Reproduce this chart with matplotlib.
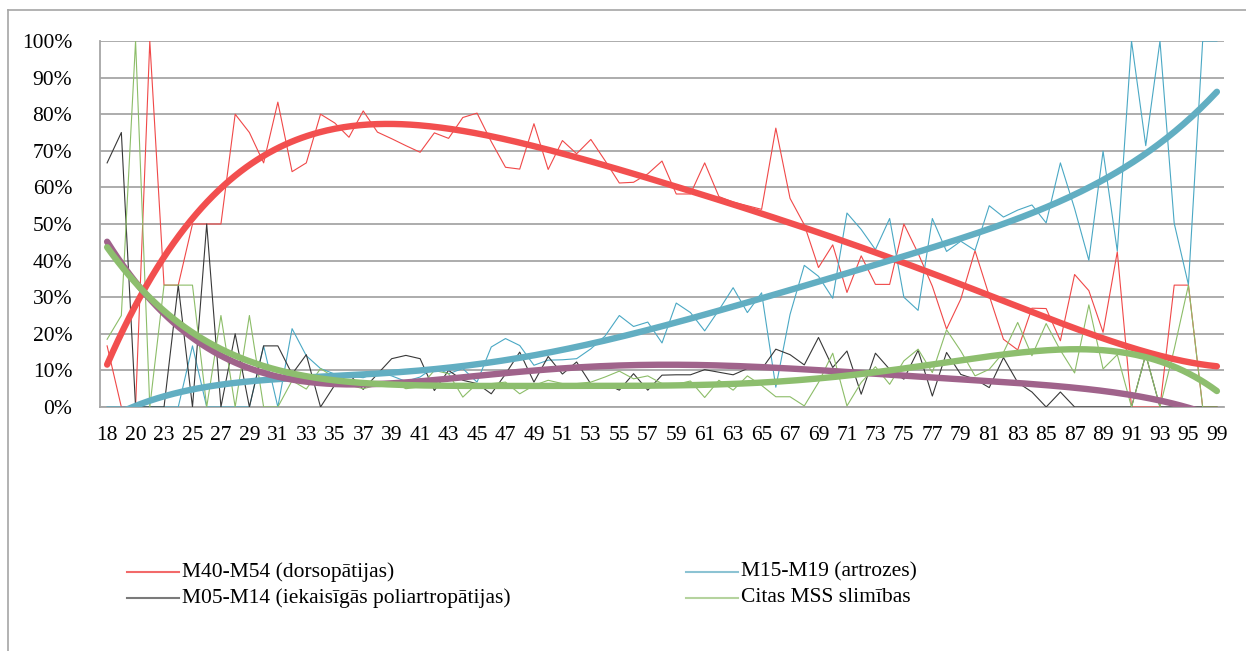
import numpy as np
import matplotlib
matplotlib.use("Agg")
import matplotlib.pyplot as plt
from matplotlib.lines import Line2D

ages = [18, 19, 20, 21] + list(range(23, 96)) + [97, 99]

m40_m54 = [16.7, 0, 0, 100, 33.3, 33.3, 50, 50, 50, 80, 75, 66.7, 83.3, 64.3, 66.7, 80,
           77.6, 73.7, 80.9, 75.1, 73.3, 71.4, 69.6, 74.9, 73.4, 79.1, 80.3, 72.5, 65.5, 65,
           77.4, 64.9, 72.8, 69.2, 73.1, 67.3, 61.2, 61.4, 63.7, 67.2, 58.2, 58.2, 66.7, 57.5,
           56, 55, 54, 76.2, 57, 49.8, 38.1, 44.3, 31.3, 41.3, 33.5, 33.5, 50, 42, 33, 21.3,
           29.5, 42.7, 30.4, 18.5, 15.6, 27, 26.9, 18.1, 36.2, 31.8, 20.4, 42.4, 0, 0, 0,
           33.3, 33.3, 0, 0]

m15_m19 = [0, 0, 0, 0, 0, 0, 16.7, 0, 0, 0, 0, 16.7, 0, 21.4, 14, 10.5, 9, 8.5, 8, 9.5,
           8.5, 7, 8.2, 10.9, 9.1, 10.5, 6.8, 16.4, 18.7, 16.8, 11.4, 12.8, 12.9, 13.2, 15.9,
           19.4, 25, 22, 23.2, 17.5, 28.4, 25.8, 20.8, 26.5, 32.6, 25.8, 31.2, 5.4, 25.3,
           38.7, 35.7, 29.7, 53, 48.5, 43, 51.5, 30, 26.4, 51.5, 42.5, 45.3, 42.8, 55, 51.9,
           53.8, 55.2, 50.3, 66.7, 54.2, 40.1, 69.9, 42.6, 100, 71.4, 100, 50.2, 33.4, 100, 100]

m05_m14 = [66.7, 75, 0, 0, 0, 33.3, 0, 50, 0, 20, 0, 16.7, 16.7, 9, 14.3, 0, 6, 9, 4.8, 9,
           13.2, 14.1, 13.2, 4.5, 10, 7.3, 6.4, 3.6, 9, 15, 6.8, 13.8, 9, 12.3, 6.3, 6.4, 4.6,
           9.1, 4.6, 8.7, 8.8, 8.8, 10.2, 9.5, 8.8, 10.5, 10.3, 15.8, 14.3, 11.5, 19, 10.8,
           15.3, 3.5, 14.7, 10.3, 7.6, 15.5, 3, 14.9, 8.9, 7.6, 5.3, 13.5, 6.7, 4.1, 0, 4.1,
           0, 0, 0, 0, 0, 14.3, 0, 0, 0, 0, 0]

citas = [18.5, 25, 100, 0, 33.3, 33.3, 33.3, 0, 25, 0, 25, 0, 0, 7.2, 4.9, 10.5, 8, 6, 5,
         6, 7, 5, 5.5, 10, 9.1, 2.7, 6.4, 6.4, 6.8, 3.6, 5.9, 7.3, 6.4, 6.4, 6.8, 8.2, 9.8,
         7.7, 8.5, 6.4, 6.2, 7.1, 2.6, 7.3, 4.6, 8.5, 5.9, 2.8, 2.8, 0.3, 6.7, 14.7, 0.3, 6.7,
         11, 6.2, 12.6, 15.8, 9.4, 21.1, 15.3, 8.5, 10.3, 14.9, 23.1, 14, 22.8, 15.5, 9.3,
         27.9, 10.4, 14.3, 0, 14.3, 0, 15.8, 33.3, 0, 0]

labels = ["M40-M54 (dorsopātijas)", "M15-M19 (artrozes)",
          "M05-M14 (iekaisīgās poliartropātijas)", "Citas MSS slimības"]

TREND_DEGREE = 5

plt.rcParams['font.family'] = ['Liberation Serif', 'DejaVu Serif']
FS = 15.5

fig = plt.figure(figsize=(12.46, 6.51), dpi=100)
ax = fig.add_axes([100 / 1246, 1 - 407 / 651, 1124 / 1246, 366 / 651])

n = len(ages)
x = np.arange(n)

series = [
    (m40_m54, '#F04848', '#F24F4F'),
    (m15_m19, '#4AA8C4', '#62AEC2'),
    (m05_m14, '#383838', '#A0638B'),
    (citas, '#8CBD68', '#8DBE6E'),
]

for vals, c, _ in series:
    ax.plot(x, np.array(vals) / 100, color=c, lw=0.8, zorder=3)

xf = np.linspace(0, n - 1, 400)
for vals, _, tc in series:
    coef = np.polyfit(x + 1, np.array(vals) / 100, TREND_DEGREE)
    ax.plot(xf, np.polyval(coef, xf + 1), color=tc, lw=4.6,
            solid_capstyle='round', zorder=4)

ax.set_xlim(-0.5, n - 0.5)
ax.set_ylim(0, 1)
ax.set_yticks(np.arange(0, 1.01, 0.1))
ax.set_yticklabels([f"{int(round(v * 100))}%" for v in np.arange(0, 1.01, 0.1)])
ax.set_xticks(x[::2])
ax.set_xticklabels([str(a) for a in ages[::2]])
ax.tick_params(axis='both', length=0, labelsize=FS, colors='#000000')
ax.tick_params(axis='y', pad=20)
ax.tick_params(axis='x', pad=14)
ax.grid(axis='y', color='#A6A6A6', lw=1.3)
ax.set_axisbelow(True)
for s in ['top', 'right']:
    ax.spines[s].set_visible(False)
ax.spines['left'].set_color('#A6A6A6')
ax.spines['bottom'].set_color('#A6A6A6')
ax.spines['left'].set_linewidth(1.3)
ax.spines['bottom'].set_linewidth(1.3)

# chart border
fig.add_artist(Line2D([8 / 1246, 8 / 1246], [0, 1 - 10 / 651], color='#A6A6A6', lw=1.2))
fig.add_artist(Line2D([8 / 1246, 1], [1 - 10 / 651, 1 - 10 / 651], color='#A6A6A6', lw=1.2))

# legend
leg = [
    (127, 572, labels[0], '#F26A6A'),
    (127, 598, labels[2], '#7A7A7A'),
    (686, 572, labels[1], '#8CC3D3'),
    (686, 598, labels[3], '#B5D39E'),
]
for px, py, txt, c in leg:
    yy = 1 - py / 651
    fig.add_artist(Line2D([px / 1246, (px + 52) / 1246], [yy, yy], color=c, lw=1.5))
    fig.text((px + 55) / 1246, yy, txt, fontsize=FS, va='center', ha='left')

fig.savefig("out.png", dpi=100)
